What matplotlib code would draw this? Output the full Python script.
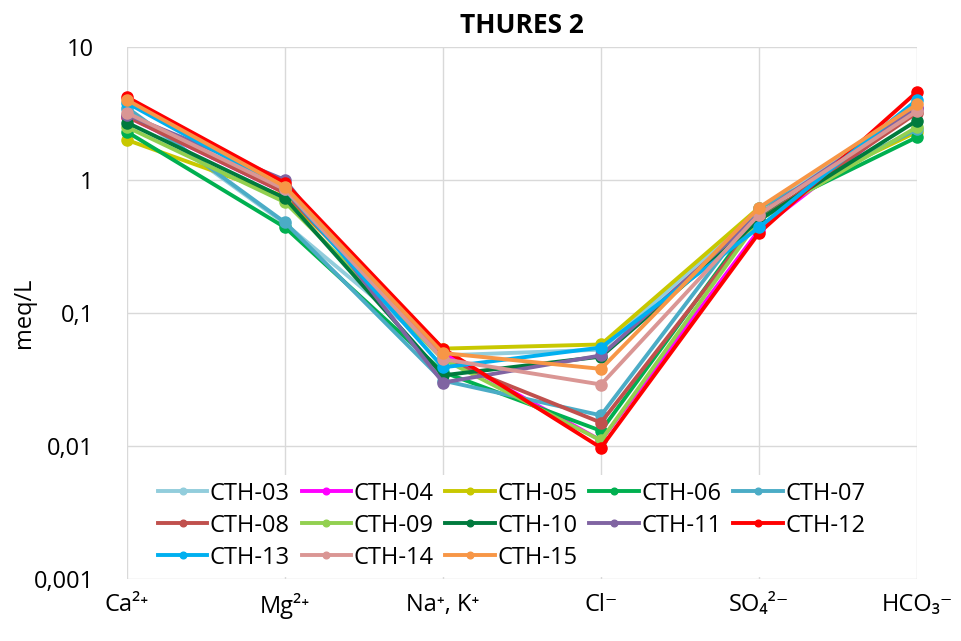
import matplotlib.pyplot as plt
from matplotlib.ticker import FixedLocator, NullLocator

plt.rcParams['font.family'] = ['Open Sans', 'DejaVu Sans']

ions = ['Ca²⁺', 'Mg²⁺', 'Na⁺, K⁺', 'Cl⁻', 'SO₄²⁻', 'HCO₃⁻']

# meq/L per sample, in the order of ions above
cth_03 = [3.4, 0.47, 0.048, 0.053, 0.60, 3.3]
cth_04 = [3.0, 0.80, 0.050, 0.011, 0.42, 3.5]
cth_05 = [2.0, 0.75, 0.054, 0.058, 0.62, 2.3]
cth_06 = [2.3, 0.44, 0.036, 0.013, 0.55, 2.1]
cth_07 = [3.5, 0.48, 0.031, 0.017, 0.62, 2.4]
cth_08 = [3.0, 0.80, 0.045, 0.015, 0.50, 3.2]
cth_09 = [2.5, 0.68, 0.045, 0.011, 0.50, 2.5]
cth_10 = [2.7, 0.73, 0.034, 0.047, 0.50, 2.8]
cth_11 = [3.1, 1.00, 0.030, 0.048, 0.55, 3.5]
cth_12 = [4.2, 0.95, 0.054, 0.0097, 0.40, 4.6]
cth_13 = [3.8, 0.85, 0.039, 0.055, 0.44, 4.0]
cth_14 = [3.2, 0.85, 0.045, 0.029, 0.55, 3.3]
cth_15 = [4.0, 0.89, 0.050, 0.038, 0.62, 3.7]

samples = ['CTH-03', 'CTH-04', 'CTH-05', 'CTH-06', 'CTH-07', 'CTH-08', 'CTH-09',
           'CTH-10', 'CTH-11', 'CTH-12', 'CTH-13', 'CTH-14', 'CTH-15']
values = [cth_03, cth_04, cth_05, cth_06, cth_07, cth_08, cth_09,
          cth_10, cth_11, cth_12, cth_13, cth_14, cth_15]
colors = ['#92CDDC', '#FF00FF', '#C8C800', '#00B050', '#4BACC6', '#C0504D', '#92D050',
          '#007A3D', '#8064A2', '#FF0000', '#00B0F0', '#DA9694', '#F79646']

fig = plt.figure(figsize=(9.62, 6.41), dpi=100)
ax = fig.add_axes([127 / 962, 1 - 579 / 641, (917 - 127) / 962, (579 - 47) / 641])

x = range(len(ions))
handles = []
for name, vals, col in zip(samples, values, colors):
    h, = ax.plot(x, vals, color=col, lw=2.8, marker='o', ms=8, label=name, clip_on=False)
    handles.append(h)

ax.set_yscale('log')
ax.set_ylim(0.001, 10)
ax.set_xlim(0, len(ions) - 1)
ax.yaxis.set_major_locator(FixedLocator([0.001, 0.01, 0.1, 1, 10]))
ax.yaxis.set_minor_locator(NullLocator())
ax.set_yticklabels(['0,001', '0,01', '0,1', '1', '10'])
ax.set_xticks(list(x))
ax.set_xticklabels(ions)
ax.tick_params(length=0, labelsize=17, colors='black')
ax.tick_params(axis='x', pad=10)
ax.tick_params(axis='y', pad=24)
ax.grid(True, color='#D9D9D9', lw=1)
ax.set_axisbelow(True)
for s in ax.spines.values():
    s.set_visible(False)

fig.text(24 / 962, 1 - 313 / 641, 'meq/L', fontsize=17, rotation=90,
         ha='center', va='center')
ax.set_title('THURES 2', fontsize=19, fontweight='bold', pad=10)

# legend filled row by row, like the spreadsheet one
order = [0, 5, 10, 1, 6, 11, 2, 7, 12, 3, 8, 4, 9]
leg = ax.legend([handles[i] for i in order], [samples[i] for i in order],
                loc='lower left', bbox_to_anchor=(0.015, -0.018), ncol=5, fontsize=17,
                frameon=True, framealpha=1, edgecolor='white', handlelength=2.1,
                handletextpad=0.1, columnspacing=0.5, labelspacing=0.34,
                borderpad=0.3, markerscale=0.6)
leg.get_frame().set_linewidth(0)

fig.savefig('out.png', dpi=100)
